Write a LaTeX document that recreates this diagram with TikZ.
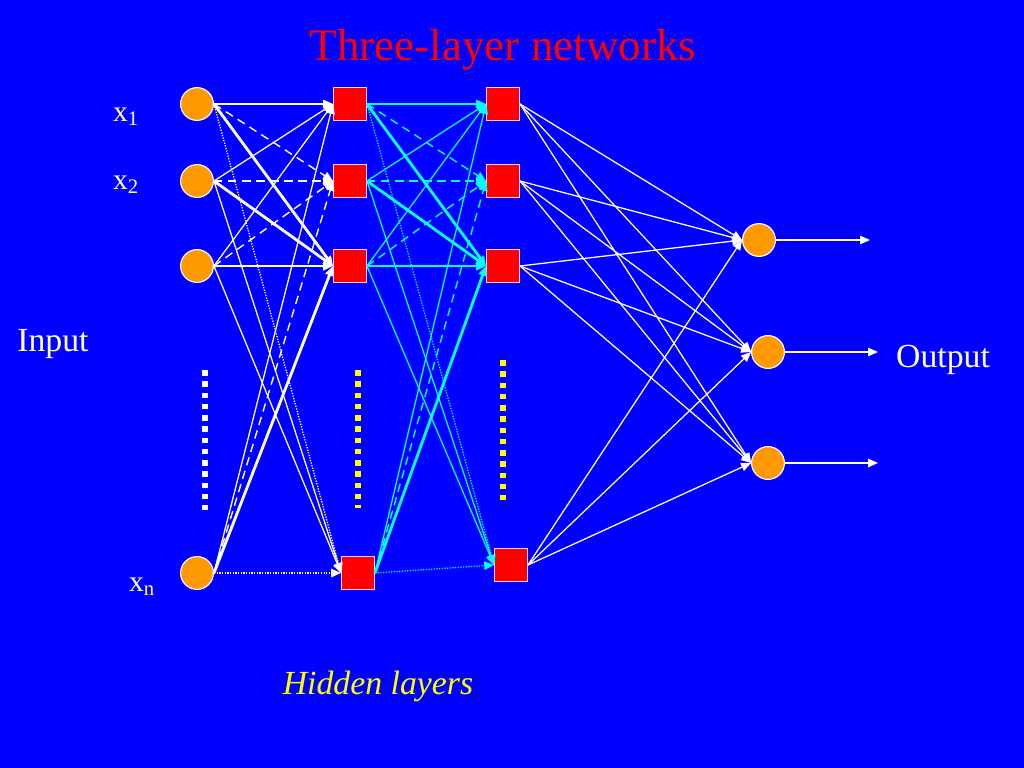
\documentclass[tikz,border=0pt]{standalone}
\usepackage{fontspec}
\setmainfont{Liberation Serif}
\usetikzlibrary{positioning,arrows.meta}
\definecolor{slideblue}{RGB}{0,0,255}
\definecolor{nodeorange}{RGB}{255,153,0}
\definecolor{edgepink}{RGB}{255,204,230}
\definecolor{wirecyan}{RGB}{0,255,255}
\definecolor{dotyellow}{RGB}{255,255,0}
\definecolor{titlered}{RGB}{255,0,0}

\begin{document}
\begin{tikzpicture}[x=0.025cm, y=-0.025cm, >={Triangle[length=7pt,width=6pt]},
innode/.style={circle, draw=white, fill=nodeorange, thick, inner sep=0pt, minimum size=8.2mm},
hidnode/.style={rectangle, draw=edgepink, fill=titlered, thick, inner sep=0pt, minimum size=8.2mm},
wire/.style={->, line width=0.9pt},
wirebold/.style={->, line width=2pt},
wiredash/.style={->, line width=1pt, dash pattern=on 6pt off 4pt},
wiredot/.style={->, line width=0.9pt, densely dotted},
dots/.style={line width=4pt, dash pattern=on 4pt off 4pt},
txt/.style={text=white, inner sep=0pt, font=\fontsize{24}{28}\selectfont},
]
\fill[slideblue] (0,0) rectangle (1024,768);
\useasboundingbox (0,0) rectangle (1024,768);

%Nodes
\node[innode]      (I1)      at (197,104)        {};
\node[innode]      (I2)      at (197,181)        {};
\node[innode]      (I3)      at (197,266)        {};
\node[innode]      (In)      at (197,573)        {};
\node[hidnode]     (H1)      at (350,104)        {};
\node[hidnode]     (H2)      at (350,181)        {};
\node[hidnode]     (H3)      at (350,266)        {};
\node[hidnode]     (Hn)      at (358,573)        {};
\node[hidnode]     (K1)      at (503,104)        {};
\node[hidnode]     (K2)      at (503,181)        {};
\node[hidnode]     (K3)      at (503,266)        {};
\node[hidnode]     (Kn)      at (511,565)        {};
\node[innode]      (O1)      at (759,240)        {};
\node[innode]      (O2)      at (768,352)        {};
\node[innode]      (O3)      at (768,463)        {};
\coordinate        (Y1)      at (870,240);
\coordinate        (Y2)      at (878,352);
\coordinate        (Y3)      at (878,463);

%Labels
\node[txt, font=\fontsize{21}{24}\selectfont]  (x1)  at (126,117)  {x\textsubscript{1}};
\node[txt, font=\fontsize{21}{24}\selectfont]  (x2)  at (126,185)  {x\textsubscript{2}};
\node[txt, font=\fontsize{21}{24}\selectfont]  (xn)  at (142,587)  {x\textsubscript{n}};
\node[txt]         (input)   at (53,344)         {Input};
\node[txt]         (output)  at (943,360)        {Output};
\node[txt, text=titlered, font=\fontsize{32}{36}\selectfont] (title) at (503,50) {Three-layer networks};
\node[txt, text=dotyellow, font=\fontsize{24}{28}\selectfont\itshape] (hidden) at (378,686) {Hidden layers};

%Dots
\draw[dots, white]     (205,370) -- (205,510);
\draw[dots, dotyellow] (358,370) -- (358,508);
\draw[dots, dotyellow] (503,360) -- (503,500);

%Lines input -> hidden 1
\draw[wire, white]     (I1.east) -- (H1.west);
\draw[wiredash, white] (I1.east) -- (H2.west);
\draw[wirebold, white] (I1.east) -- (H3.west);
\draw[wiredot, white]  (I1.east) -- (Hn.west);
\draw[wire, white]     (I2.east) -- (H1.west);
\draw[wiredash, white] (I2.east) -- (H2.west);
\draw[wirebold, white] (I2.east) -- (H3.west);
\draw[wire, white]     (I2.east) -- (Hn.west);
\draw[wire, white]     (I3.east) -- (H1.west);
\draw[wiredash, white] (I3.east) -- (H2.west);
\draw[wirebold, white] (I3.east) -- (H3.west);
\draw[wire, white]     (I3.east) -- (Hn.west);
\draw[wire, white]     (In.east) -- (H1.west);
\draw[wiredash, white] (In.east) -- (H2.west);
\draw[wirebold, white] (In.east) -- (H3.west);
\draw[wiredot, white]  (In.east) -- (Hn.west);

%Lines hidden 1 -> hidden 2
\draw[wire, wirecyan]     (H1.east) -- (K1.west);
\draw[wiredash, wirecyan] (H1.east) -- (K2.west);
\draw[wirebold, wirecyan] (H1.east) -- (K3.west);
\draw[wiredot, wirecyan]  (H1.east) -- (Kn.west);
\draw[wire, wirecyan]     (H2.east) -- (K1.west);
\draw[wiredash, wirecyan] (H2.east) -- (K2.west);
\draw[wirebold, wirecyan] (H2.east) -- (K3.west);
\draw[wire, wirecyan]     (H2.east) -- (Kn.west);
\draw[wire, wirecyan]     (H3.east) -- (K1.west);
\draw[wiredash, wirecyan] (H3.east) -- (K2.west);
\draw[wirebold, wirecyan] (H3.east) -- (K3.west);
\draw[wire, wirecyan]     (H3.east) -- (Kn.west);
\draw[wire, wirecyan]     (Hn.east) -- (K1.west);
\draw[wiredash, wirecyan] (Hn.east) -- (K2.west);
\draw[wirebold, wirecyan] (Hn.east) -- (K3.west);
\draw[wiredot, wirecyan]  (Hn.east) -- (Kn.west);

%Lines hidden 2 -> output
\draw[wire, white] (K1.east) -- (O1.west);
\draw[wire, white] (K1.east) -- (O2.west);
\draw[wire, white] (K1.east) -- (O3.west);
\draw[wire, white] (K2.east) -- (O1.west);
\draw[wire, white] (K2.east) -- (O2.west);
\draw[wire, white] (K2.east) -- (O3.west);
\draw[wire, white] (K3.east) -- (O1.west);
\draw[wire, white] (K3.east) -- (O2.west);
\draw[wire, white] (K3.east) -- (O3.west);
\draw[wire, white] (Kn.east) -- (O1.west);
\draw[wire, white] (Kn.east) -- (O2.west);
\draw[wire, white] (Kn.east) -- (O3.west);
\draw[wire, white] (O1.east) -- (Y1);
\draw[wire, white] (O2.east) -- (Y2);
\draw[wire, white] (O3.east) -- (Y3);
\end{tikzpicture}
\end{document}
